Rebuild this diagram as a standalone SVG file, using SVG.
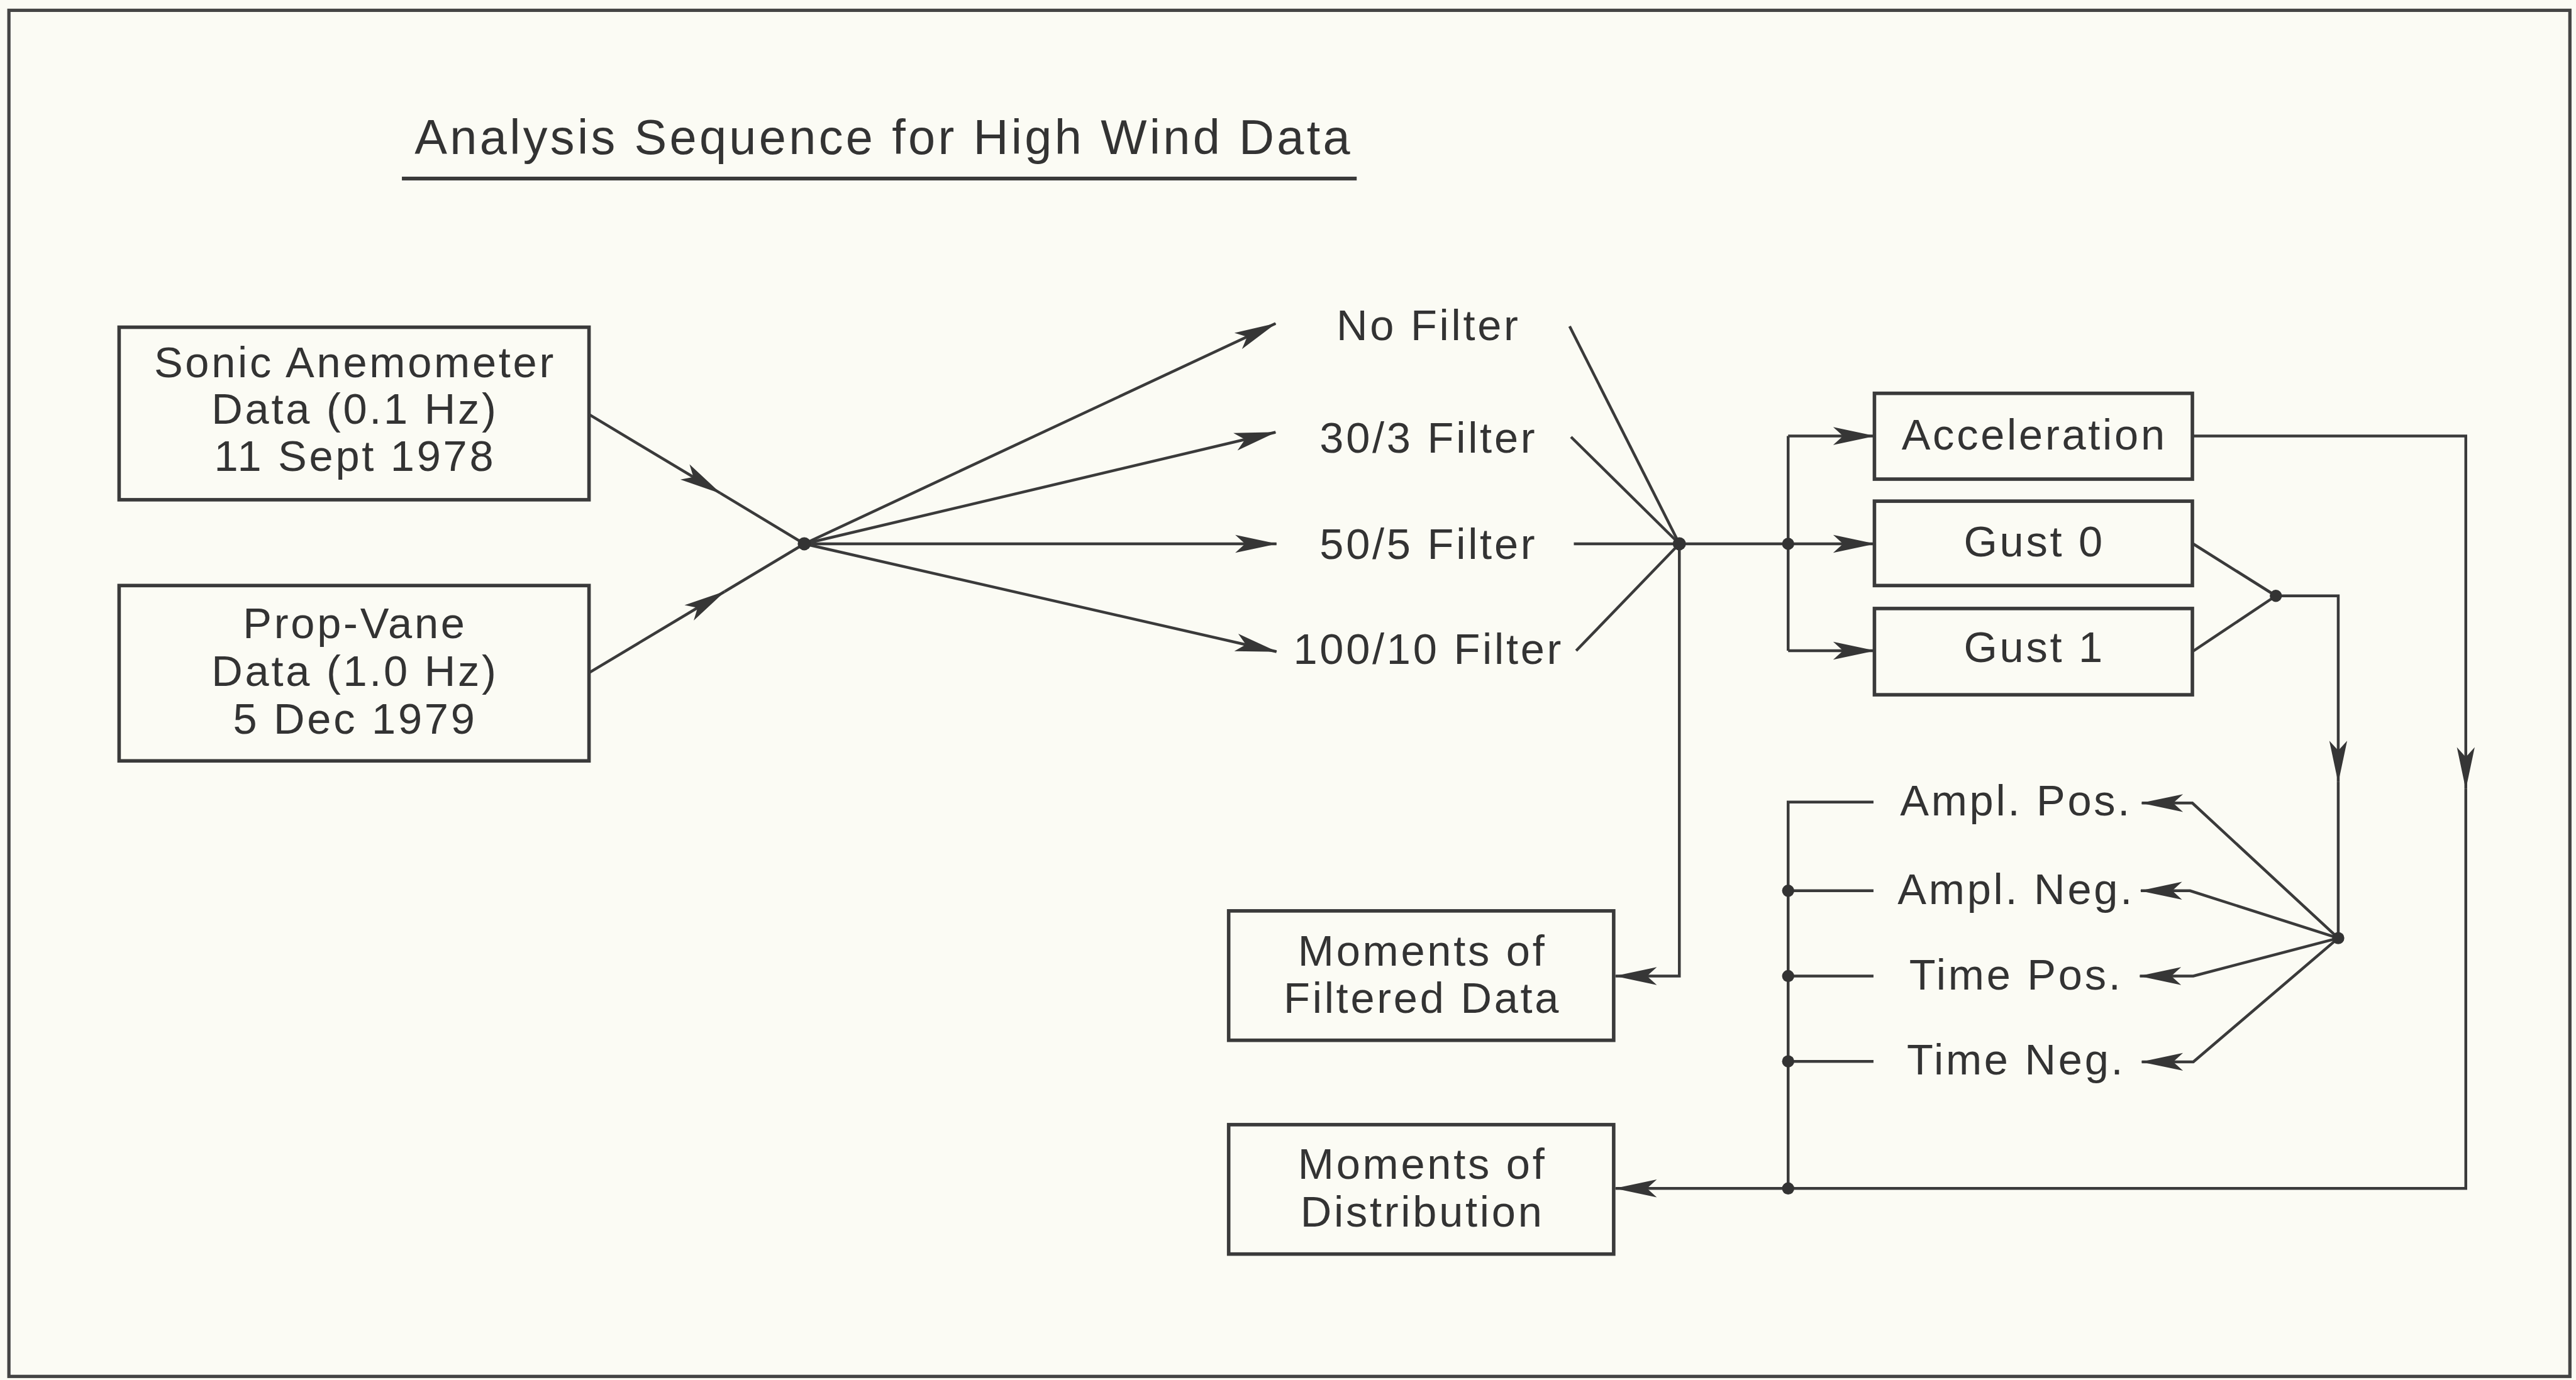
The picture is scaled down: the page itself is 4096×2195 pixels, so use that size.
<svg xmlns="http://www.w3.org/2000/svg" width="4096" height="2195" viewBox="0 0 4096 2195">
  <style>
    .bg { fill: #fbfbf4; }
    .frame { fill: none; stroke: #444444; stroke-width: 7; }
    .box { fill: #fbfbf4; stroke: #3a3a3a; stroke-width: 7.5; }
    .t { font-family: "Liberation Sans", Arial, Helvetica, sans-serif; font-size: 92px; letter-spacing: 5px; fill: #333333; text-anchor: middle; }
    .title { font-family: "Liberation Sans", Arial, Helvetica, sans-serif; font-size: 104px; letter-spacing: 5.8px; fill: #333333; }
    .c { fill: none; stroke: #3a3a3a; stroke-width: 6; stroke-linejoin: miter; }
    .a { marker-end: url(#arr); }
    .dot { fill: #333333; }
  </style>
  <defs>
    <marker id="arr" markerUnits="userSpaceOnUse" viewBox="-92 -22 94 44" markerWidth="94" markerHeight="44" refX="0" refY="0" orient="auto">
      <path d="M2,0 L-88,-19 L-67,0 L-88,19 Z" fill="#363636"/>
    </marker>
  </defs>
  <rect class="bg" x="0" y="0" width="4096" height="2195"/>
  <g transform="scale(0.745676)">
    <rect class="frame" x="19" y="22" width="5461" height="2914"/>

    <g id="title">
      <text class="title" x="884" y="329">Analysis Sequence for High Wind Data</text>
      <line x1="857" y1="381" x2="2893" y2="381" stroke="#3a3a3a" stroke-width="8"/>
    </g>

    <g id="connectors">
      <!-- inputs to junction 1 -->
      <path class="c a" d="M1256,884 L1536,1052"/>
      <path class="c" d="M1536,1052 L1715,1160"/>
      <path class="c a" d="M1256,1435 L1545,1262"/>
      <path class="c" d="M1545,1262 L1715,1160"/>
      <!-- fan to filters -->
      <path class="c a" d="M1715,1160 L2720,690"/>
      <path class="c a" d="M1715,1160 L2720,922"/>
      <path class="c a" d="M1715,1160 L2722,1160"/>
      <path class="c a" d="M1715,1160 L2722,1390"/>
      <!-- filters to junction 2 -->
      <path class="c" d="M3347,696 L3581,1160"/>
      <path class="c" d="M3350,932 L3581,1160"/>
      <path class="c" d="M3356,1160 L3581,1160"/>
      <path class="c" d="M3361,1388 L3581,1160"/>
      <!-- junction 2 to branch -->
      <path class="c" d="M3581,1160 L3813,1160"/>
      <path class="c" d="M3813,930 L3813,1388"/>
      <path class="c a" d="M3813,930 L3997,930"/>
      <path class="c a" d="M3813,1160 L3997,1160"/>
      <path class="c a" d="M3813,1388 L3997,1388"/>
      <!-- junction 2 down to moments of filtered data -->
      <path class="c a" d="M3581,1160 L3581,2082 L3445,2082"/>
      <!-- gusts to junction 4 -->
      <path class="c" d="M4675,1159 L4853,1271"/>
      <path class="c" d="M4675,1390 L4853,1271"/>
      <path class="c a" d="M4853,1271 L4986,1271 L4986,1668"/>
      <path class="c" d="M4986,1668 L4986,2001"/>
      <!-- junction 5 to peak labels -->
      <path class="c a" d="M4986,2001 L4675,1713 L4567,1713"/>
      <path class="c a" d="M4986,2001 L4670,1900 L4565,1900"/>
      <path class="c a" d="M4986,2001 L4677,2082 L4563,2082"/>
      <path class="c a" d="M4986,2001 L4677,2265 L4567,2265"/>
      <!-- acceleration loop to distribution -->
      <path class="c a" d="M4675,930 L5258,930 L5258,1682"/>
      <path class="c a" d="M5258,1682 L5258,2535 L3445,2535"/>
      <!-- collector bus -->
      <path class="c" d="M3995,1711 L3813,1711 L3813,2535"/>
      <path class="c" d="M3813,1900 L3995,1900"/>
      <path class="c" d="M3813,2082 L3995,2082"/>
      <path class="c" d="M3813,2264 L3995,2264"/>
      <!-- junction dots -->
      <circle class="dot" cx="1715" cy="1160" r="14"/>
      <circle class="dot" cx="3581" cy="1160" r="14"/>
      <circle class="dot" cx="3813" cy="1160" r="13"/>
      <circle class="dot" cx="4853" cy="1271" r="13"/>
      <circle class="dot" cx="4986" cy="2001" r="13"/>
      <circle class="dot" cx="3813" cy="1900" r="13"/>
      <circle class="dot" cx="3813" cy="2082" r="13"/>
      <circle class="dot" cx="3813" cy="2264" r="13"/>
      <circle class="dot" cx="3813" cy="2535" r="13"/>
    </g>

    <g id="sonic">
      <rect class="box" x="254" y="698" width="1002" height="368"/>
      <text class="t" x="757" y="805">Sonic Anemometer</text>
      <text class="t" x="757" y="904">Data (0.1 Hz)</text>
      <text class="t" x="757" y="1004">11 Sept 1978</text>
    </g>
    <g id="propvane">
      <rect class="box" x="254" y="1249" width="1002" height="374"/>
      <text class="t" x="757" y="1361">Prop-Vane</text>
      <text class="t" x="757" y="1463">Data (1.0 Hz)</text>
      <text class="t" x="757" y="1565">5 Dec 1979</text>
    </g>

    <g id="nofilter"><text class="t" x="3046" y="725">No Filter</text></g>
    <g id="filter30"><text class="t" x="3046" y="966">30/3 Filter</text></g>
    <g id="filter50"><text class="t" x="3046" y="1192">50/5 Filter</text></g>
    <g id="filter100"><text class="t" x="3046" y="1416">100/10 Filter</text></g>

    <g id="acceleration">
      <rect class="box" x="3997" y="839" width="678" height="183"/>
      <text class="t" x="4338" y="959">Acceleration</text>
    </g>
    <g id="gust0">
      <rect class="box" x="3997" y="1069" width="678" height="180"/>
      <text class="t" x="4338" y="1187">Gust 0</text>
    </g>
    <g id="gust1">
      <rect class="box" x="3997" y="1298" width="678" height="184"/>
      <text class="t" x="4338" y="1412">Gust 1</text>
    </g>

    <g id="amplpos"><text class="t" x="4299" y="1740">Ampl. Pos.</text></g>
    <g id="amplneg"><text class="t" x="4299" y="1929">Ampl. Neg.</text></g>
    <g id="timepos"><text class="t" x="4299" y="2111">Time Pos.</text></g>
    <g id="timeneg"><text class="t" x="4299" y="2292">Time Neg.</text></g>

    <g id="momfiltered">
      <rect class="box" x="2620" y="1943" width="821" height="276"/>
      <text class="t" x="3033" y="2060">Moments of</text>
      <text class="t" x="3033" y="2160">Filtered Data</text>
    </g>
    <g id="momdist">
      <rect class="box" x="2620" y="2399" width="821" height="276"/>
      <text class="t" x="3033" y="2515">Moments of</text>
      <text class="t" x="3033" y="2616">Distribution</text>
    </g>
  </g>
</svg>
